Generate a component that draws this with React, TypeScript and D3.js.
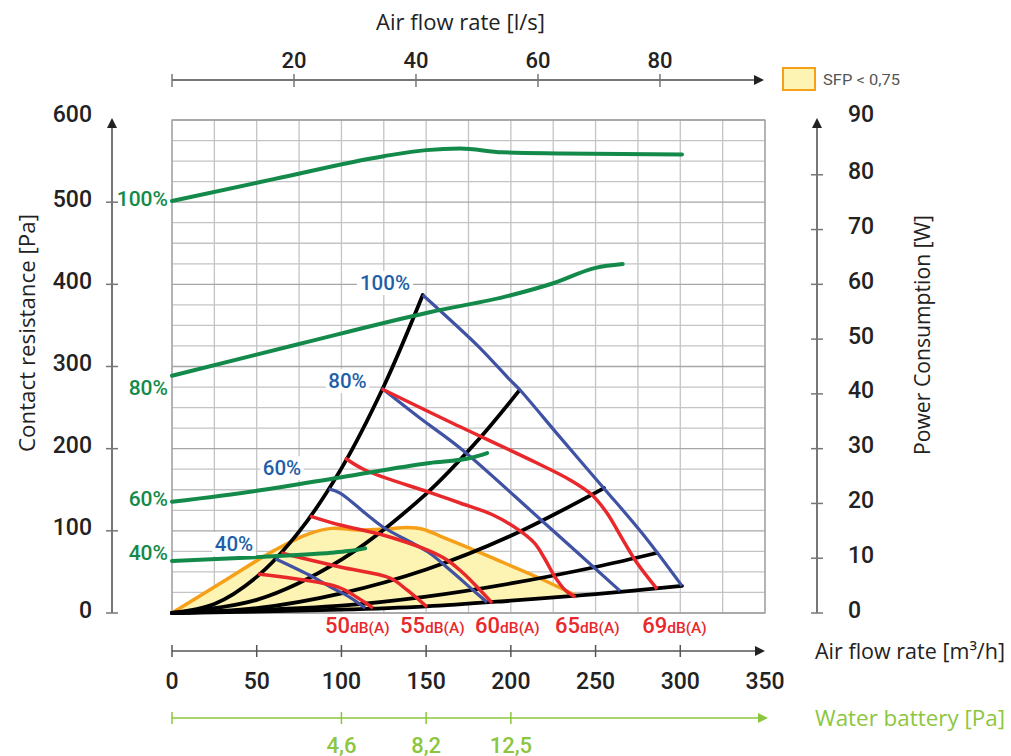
import React from 'react';
import * as d3 from 'd3';

type P = [number, number];

// ---- axis ticks ----
const flowTicks = [0, 50, 100, 150, 200, 250, 300, 350];
const flowTickMarks = [0, 50, 100, 150, 200, 250, 300];
const pressureTicks = [0, 100, 200, 300, 400, 500, 600];
const powerTicks = [0, 10, 20, 30, 40, 50, 60, 70, 80, 90];
const lsTicks = [0, 20, 40, 60, 80];
const lsLabels = [20, 40, 60, 80];
const waterFlows = [0, 100, 150, 200];
const waterLabelFlows = [100, 150, 200];
const waterLabels = ['4,6', '8,2', '12,5'];

// ---- power consumption curves [m3/h, W] ----
const power100: P[] = [[0, 75.2], [60, 79.2], [125, 83.4], [150, 84.5], [170, 84.8], [195, 84.1], [230, 83.9], [301, 83.7]];
const power80: P[] = [[0, 43.3], [75, 49.1], [152, 54.9], [200, 58.0], [225, 60.2], [250, 63.0], [266, 63.7]];
const power60: P[] = [[0, 20.3], [50, 22.3], [100, 24.8], [152, 27.4], [176, 28.3], [186, 29.2]];
const power40: P[] = [[0, 9.5], [50, 10.2], [74, 10.6], [94, 11.0], [104, 11.3], [114, 11.8]];
const powerLabels = ['100%', '80%', '60%', '40%'];
const powerLabelW = [75.6, 41.1, 20.8, 10.95];

// ---- system curves [m3/h, Pa] ----
const sys1: P[] = [[0, 0], [25, 11], [50, 44], [75, 99], [100, 176], [125, 276], [148, 387]];
const sys2: P[] = [[0, 0], [50, 16], [100, 65], [150, 145], [180, 209], [205, 271]];
const sys3: P[] = [[0, 0], [50, 6], [100, 24], [150, 53], [200, 94], [255, 152]];
const sys4: P[] = [[0, 0], [100, 9], [150, 20], [200, 36], [250, 56], [286, 73]];
const sys5: P[] = [[0, 0], [100, 4], [150, 8], [200, 15], [250, 23], [301, 33]];

// ---- fan curves [m3/h, Pa] ----
const fan100: P[] = [[148, 387], [181.8, 322.5], [199.5, 283.6], [205.4, 271.4], [229, 214], [254.6, 152.5], [277.5, 97], [301, 33]];
const fan80: P[] = [[123.7, 273.8], [146.3, 237.3], [170, 200.8], [217.2, 114.4], [264.4, 27]];
const fan60: P[] = [[92.5, 151], [99.2, 146], [113.9, 121.7], [124.5, 104.7], [151.1, 74.2], [164.1, 52.3], [177.6, 28], [185.9, 13]];
const fan40: P[] = [[61, 66], [83, 44], [95, 30], [105, 19], [114, 6]];
const fanLabels = ['100%', '80%', '60%', '40%'];
const fanLabelFlow = [125.7, 103.6, 64.9, 36.6];
const fanLabelPa = [401.6, 282.3, 176.5, 84];

// ---- sound curves [m3/h, Pa] ----
const db69: P[] = [[123.9, 272.6], [164.1, 232.5], [215.4, 182.5], [234.9, 161.9], [247.9, 143.6], [256.7, 121.7], [266.2, 88.8], [274.5, 60.8], [286.3, 29.2]];
const db65: P[] = [[102.1, 188.6], [113.9, 174], [151.1, 147.3], [170, 133.9], [189.5, 119.3], [205.4, 100], [214, 85], [220, 66], [226, 44], [232, 28], [238, 19.5]];
const db60: P[] = [[81.5, 118], [99.2, 107.1], [124.5, 94.9], [150.5, 76.7], [162.3, 64.5], [171.8, 48.7], [181.8, 28], [188.9, 12.2]];
const db55: P[] = [[64.5, 73], [99.2, 56], [128.7, 42.6], [138.7, 28], [150.5, 7.3]];
const db50: P[] = [[50.8, 47.5], [98, 31.6], [109.8, 18.3], [118.6, 6.1]];
const dbValues = ['50', '55', '60', '65', '69'];
const dbLabelFlow = [90.3, 134.6, 178.9, 226.1, 277.5];

// ---- SFP < 0,75 area [m3/h, Pa] ----
const sfpTop: P[] = [[0, 0], [30, 38], [60.8, 76.7], [80.3, 96.1], [94, 103], [110, 101], [125, 102], [139, 104], [148, 102], [158.2, 93.7], [174.1, 80.3], [187.7, 68.2], [215.4, 43.8], [239, 20.7]];
const sfpBottom: P[] = [[239, 20.7], [200, 15], [150, 8], [100, 4], [50, 1.2], [0, 0]];

const FONT = 'Roboto, "Open Sans", sans-serif';
const TFONT = '"Open Sans", Roboto, sans-serif';
const GREEN = '#138a4a';
const BLUE = '#3f52a3';
const BLUE_T = '#1f5fa8';
const RED = '#e8282b';
const ORANGE = '#f6a01a';
const LGREEN = '#8cc63f';

export default function App() {
  const x = d3.scaleLinear().domain([0, 350]).range([172, 765]);
  const y = d3.scaleLinear().domain([0, 600]).range([613, 120]);
  const yW = d3.scaleLinear().domain([0, 90]).range([613, 120]);
  const xLs = d3.scaleLinear().domain([0, 350 / 3.6]).range([172, 765]);

  const line = d3.line<P>().x(d => x(d[0])).y(d => y(d[1])).curve(d3.curveCatmullRom.alpha(0.5));
  const lineW = d3.line<P>().x(d => x(d[0])).y(d => yW(d[1])).curve(d3.curveMonotoneX);

  const sfpPath = line(sfpTop)! + 'L' + line(sfpBottom)!.slice(1) + 'Z';

  const vGrid = d3.range(0, 351, 25);
  const hGrid = d3.range(0, 601, 25);

  const axisCol = '#777';
  const arrow = (tx: number, ty: number, dir: 'up' | 'right') =>
    dir === 'up'
      ? `M${tx},${ty} L${tx - 5},${ty + 10} L${tx + 5},${ty + 10} Z`
      : `M${tx},${ty} L${tx - 10},${ty - 5} L${tx - 10},${ty + 5} Z`;

  return (
    <svg width={1011} height={756} style={{ position: 'absolute', left: 0, top: 0, background: '#fff' }} fontFamily={FONT}>
      {/* grid */}
      {vGrid.map(v => (
        <line key={'v' + v} x1={x(v)} x2={x(v)} y1={y(0)} y2={y(600)} stroke="#c4c4c4" strokeWidth={1.3} />
      ))}
      {hGrid.map(v => (
        <line key={'h' + v} x1={x(0)} x2={x(350)} y1={y(v)} y2={y(v)} stroke={v % 100 === 0 ? '#a6a6a6' : '#c4c4c4'} strokeWidth={1.3} />
      ))}
      <rect x={x(0)} y={y(600)} width={x(350) - x(0)} height={y(0) - y(600)} fill="none" stroke="#a0a0a0" strokeWidth={1.3} />

      {/* SFP area */}
      <path d={sfpPath} fill="#fdf4b3" stroke="none" />
      <path d={line(sfpTop)!} fill="none" stroke={ORANGE} strokeWidth={3.5} strokeLinecap="round" />

      {/* system curves */}
      {[sys1, sys2, sys3, sys4, sys5].map((s, i) => (
        <path key={'s' + i} d={line(s)!} fill="none" stroke="#000" strokeWidth={3.8} strokeLinecap="round" />
      ))}

      {/* fan curves */}
      {[fan100, fan80, fan60, fan40].map((s, i) => (
        <path key={'f' + i} d={line(s)!} fill="none" stroke={BLUE} strokeWidth={3.2} strokeLinecap="butt" />
      ))}

      {/* sound curves */}
      {[db50, db55, db60, db65, db69].map((s, i) => (
        <path key={'d' + i} d={line(s)!} fill="none" stroke={RED} strokeWidth={3.5} strokeLinecap="butt" />
      ))}

      {/* power curves */}
      {[power100, power80, power60, power40].map((s, i) => (
        <path key={'p' + i} d={lineW(s)!} fill="none" stroke={GREEN} strokeWidth={4} strokeLinecap="round" />
      ))}

      {/* fan labels */}
      {fanLabels.map((t, i) => {
        const cx = x(fanLabelFlow[i]);
        const cy = y(fanLabelPa[i]);
        const w = t.length * 12.5 + 6;
        return (
          <g key={'fl' + t}>
            <rect x={cx - w / 2} y={cy - 12} width={w} height={24} fill="#fff" />
            <text x={cx} y={cy} textAnchor="middle" dominantBaseline="central" fontSize={20.5} fontWeight={500} fill={BLUE_T}>{t}</text>
          </g>
        );
      })}

      {/* power labels */}
      {powerLabels.map((t, i) => (
        <text key={'pl' + t} x={168} y={yW(powerLabelW[i])} textAnchor="end" dominantBaseline="central" fontSize={21} fontWeight={500} fill={GREEN}>{t}</text>
      ))}

      {/* dB labels */}
      {dbValues.map((v, i) => (
        <text key={'db' + v} x={x(dbLabelFlow[i])} y={633} fill={RED} fontWeight={500}>
          <tspan fontSize={22}>{v}</tspan>
          <tspan fontSize={15.5}>dB(A)</tspan>
        </text>
      ))}

      {/* left axis */}
      <line x1={112} x2={112} y1={y(0)} y2={124} stroke={axisCol} strokeWidth={2} />
      <path d={arrow(112, 118, 'up')} fill="#222" />
      {pressureTicks.filter(v => v < 600).map(v => (
        <line key={'lt' + v} x1={106} x2={118} y1={y(v)} y2={y(v)} stroke={axisCol} strokeWidth={1.5} />
      ))}
      {pressureTicks.map(v => (
        <text key={'ll' + v} x={92} y={v === 600 ? y(v) - 6 : y(v) - 3} textAnchor="end" dominantBaseline="central" fontSize={23} fontWeight={500} fill="#222">{v}</text>
      ))}
      <text transform={`translate(27,${333}) rotate(-90)`} textAnchor="middle" dominantBaseline="central" fontFamily={TFONT} fontSize={21} textLength={238} lengthAdjust="spacingAndGlyphs" fill="#222">Contact resistance [Pa]</text>

      {/* right axis */}
      <line x1={817} x2={817} y1={y(0)} y2={124} stroke={axisCol} strokeWidth={2} />
      <path d={arrow(817, 118, 'up')} fill="#222" />
      {powerTicks.filter(v => v < 90).map(v => (
        <line key={'rt' + v} x1={811} x2={823} y1={yW(v)} y2={yW(v)} stroke={axisCol} strokeWidth={1.5} />
      ))}
      {powerTicks.map(v => (
        <text key={'rl' + v} x={848} y={v === 90 ? yW(v) - 6 : yW(v) - 3} textAnchor="start" dominantBaseline="central" fontSize={23} fontWeight={500} fill="#222">{v}</text>
      ))}
      <text transform={`translate(922,${335}) rotate(-90)`} textAnchor="middle" dominantBaseline="central" fontFamily={TFONT} fontSize={21} textLength={240} lengthAdjust="spacingAndGlyphs" fill="#222">Power Consumption [W]</text>

      {/* top axis (l/s) */}
      <line x1={x(0)} x2={757} y1={80} y2={80} stroke={axisCol} strokeWidth={2} />
      <path d={arrow(764, 80, 'right')} fill="#222" />
      {lsTicks.map(v => (
        <line key={'tt' + v} x1={xLs(v)} x2={xLs(v)} y1={74} y2={87} stroke={axisCol} strokeWidth={1.5} />
      ))}
      {lsLabels.map(v => (
        <text key={'tl' + v} x={xLs(v)} y={60} textAnchor="middle" dominantBaseline="central" fontSize={22} fontWeight={500} fill="#222">{v}</text>
      ))}
      <text x={376} y={22} dominantBaseline="central" fontFamily={TFONT} fontSize={21} textLength={169} lengthAdjust="spacingAndGlyphs" fill="#222">Air flow rate [l/s]</text>

      {/* legend */}
      <rect x={783} y={68} width={32} height={22} fill="#fdf4b3" stroke={ORANGE} strokeWidth={2} />
      <text x={823} y={80} dominantBaseline="central" fontSize={15.5} textLength={77} lengthAdjust="spacingAndGlyphs" fill="#555">SFP &lt; 0,75</text>

      {/* bottom axis (m3/h) */}
      <line x1={x(0)} x2={758} y1={651} y2={651} stroke="#555" strokeWidth={1.5} />
      <path d={arrow(765, 651, 'right')} fill="#222" />
      {flowTickMarks.map(v => (
        <line key={'bt' + v} x1={x(v)} x2={x(v)} y1={645} y2={657} stroke="#555" strokeWidth={1.5} />
      ))}
      {flowTicks.map(v => (
        <text key={'bl' + v} x={x(v)} y={681} textAnchor="middle" dominantBaseline="central" fontSize={23} fontWeight={500} fill="#222">{v}</text>
      ))}
      <text x={815} y={651} dominantBaseline="central" fontFamily={TFONT} fontSize={21} textLength={190} lengthAdjust="spacingAndGlyphs" fill="#222">Air flow rate [m³/h]</text>

      {/* water battery axis */}
      <line x1={x(0)} x2={761} y1={718} y2={718} stroke={LGREEN} strokeWidth={1.5} />
      <path d={arrow(768, 718, 'right')} fill={LGREEN} />
      {waterFlows.map(v => (
        <line key={'wt' + v} x1={x(v)} x2={x(v)} y1={712} y2={724} stroke={LGREEN} strokeWidth={1.5} />
      ))}
      {waterLabelFlows.map((v, i) => (
        <text key={'wl' + v} x={x(v)} y={745} textAnchor="middle" dominantBaseline="central" fontSize={22} fontWeight={500} fill={LGREEN}>{waterLabels[i]}</text>
      ))}
      <text x={815} y={718} dominantBaseline="central" fontFamily={TFONT} fontSize={21} textLength={190} lengthAdjust="spacingAndGlyphs" fill={LGREEN}>Water battery [Pa]</text>
    </svg>
  );
}
